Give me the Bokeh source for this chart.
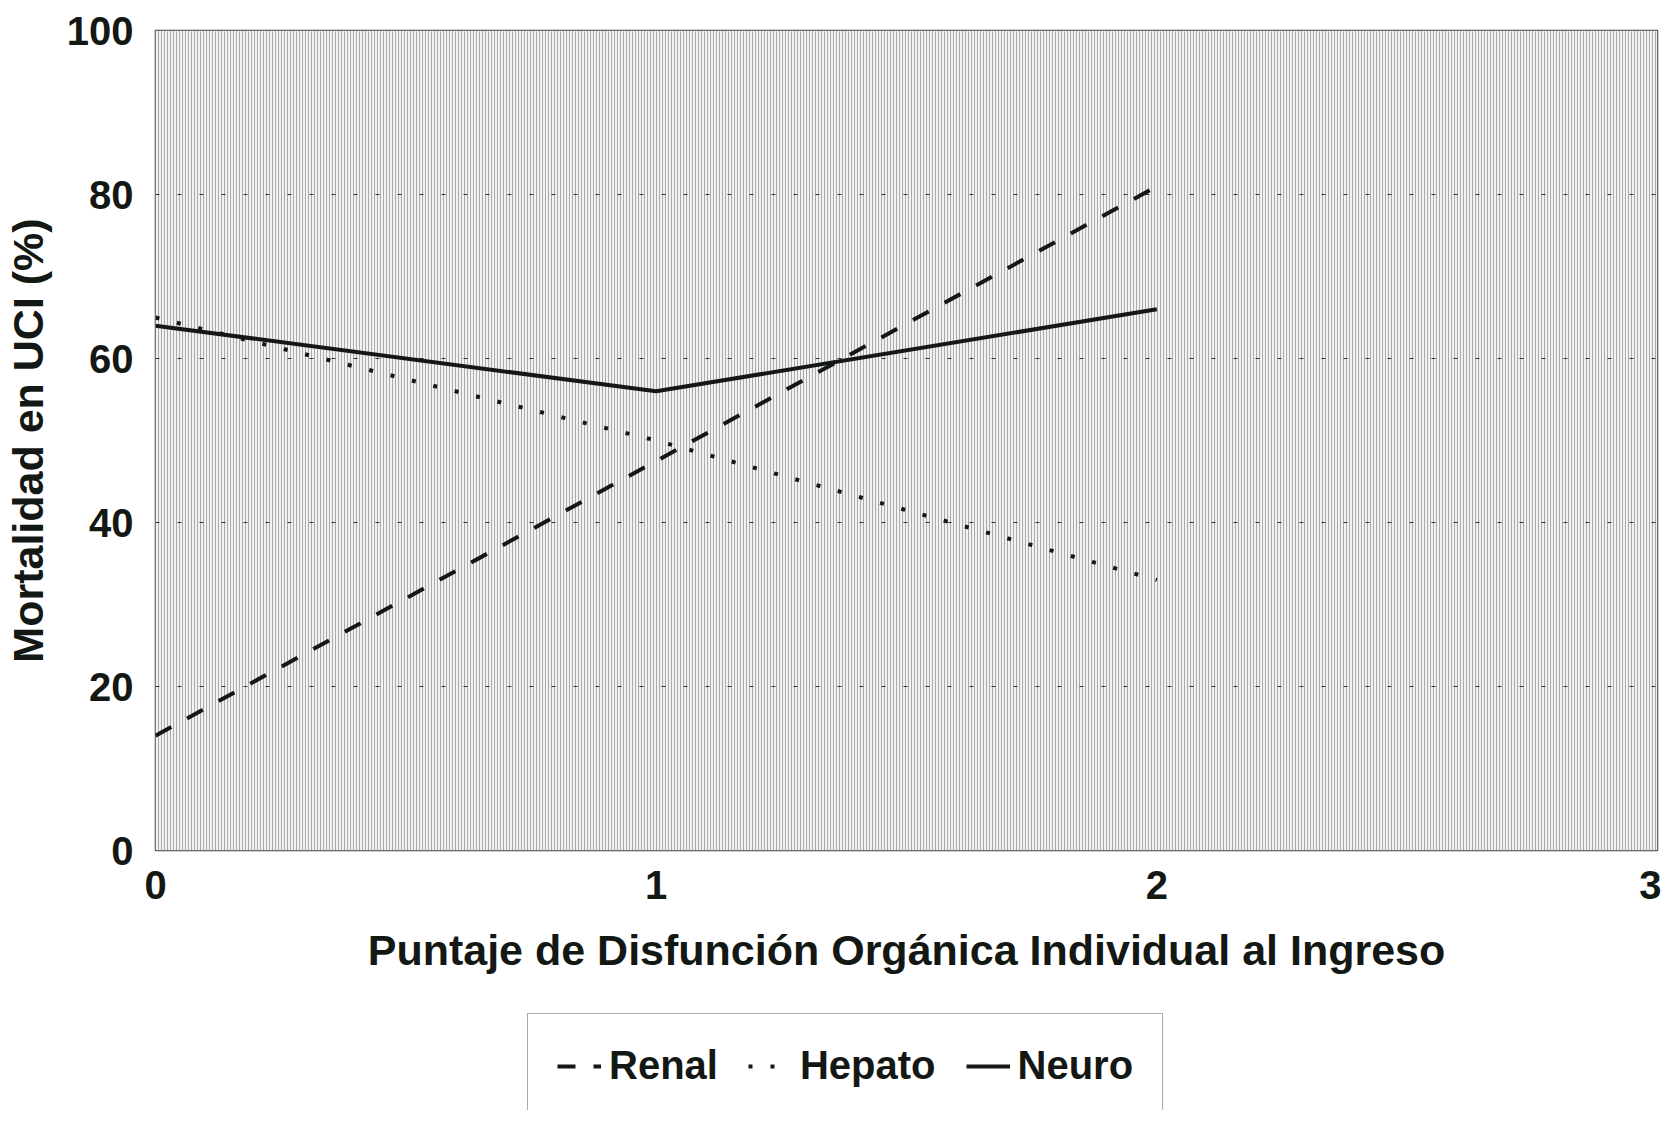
from bokeh.plotting import figure
from bokeh.layouts import column
from bokeh.models import Range1d, FixedTicker, BoxAnnotation, Legend, LegendItem
from bokeh.embed import file_html
from bokeh.resources import INLINE

# ---- data ----
scores = [0, 1, 2]
renal = [14, 47.5, 81]
hepato = [65, 50, 33]
neuro = [64, 56, 66]
x_ticks = [0, 1, 2, 3]
y_ticks = [0, 20, 40, 60, 80, 100]
series_names = ["Renal", "Hepato", "Neuro"]
x_label = "Puntaje de Disfunción Orgánica Individual al Ingreso"
y_label = "Mortalidad en UCI (%)"

FONT = "Liberation Sans"
INK = "#141814"
DASHES = ["18 18", "4 18", "solid"]
SERIES = [renal, hepato, neuro]

p = figure(width=1661, height=990, output_backend="svg", toolbar_location=None,
           x_range=Range1d(0, 3), y_range=Range1d(0, 100),
           min_border_left=147, min_border_right=4, min_border_top=30,
           min_border_bottom=140)

p.background_fill_color = "#e2e2e2"
p.border_fill_color = "white"
p.outline_line_color = "#3a3a3a"
p.outline_line_width = 1.5

# scanned-paper vertical hatch texture of plot area
bg = BoxAnnotation(fill_color="#f2f2f2", fill_alpha=1.0, line_color=None,
                   hatch_pattern="|", hatch_color="#ababab", hatch_scale=3,
                   hatch_weight=1, hatch_alpha=1.0, level="image")
p.add_layout(bg)

# grid
p.xgrid.grid_line_color = None
p.ygrid.ticker = FixedTicker(ticks=y_ticks)
p.ygrid.grid_line_color = "#333333"
p.ygrid.grid_line_width = 1
p.ygrid.grid_line_dash = "4 18"

for vals, dash in zip(SERIES, DASHES):
    p.line(scores, vals, line_color=INK, line_width=4, line_dash=dash)

# axes
for ax in (p.xaxis[0], p.yaxis[0]):
    ax.axis_line_color = None
    ax.major_tick_line_color = None
    ax.minor_tick_line_color = None
    ax.major_label_text_font = FONT
    ax.major_label_text_font_style = "bold"
    ax.major_label_text_font_size = "40px"
    ax.major_label_text_color = INK
    ax.axis_label_text_font = FONT
    ax.axis_label_text_font_style = "bold"
    ax.axis_label_text_font_size = "43px"
    ax.axis_label_text_color = INK

p.xaxis.ticker = FixedTicker(ticks=x_ticks)
p.yaxis.ticker = FixedTicker(ticks=y_ticks)
p.xaxis.axis_label = x_label
p.yaxis.axis_label = y_label
p.xaxis.major_label_standoff = 14
p.xaxis.axis_label_standoff = 24
p.yaxis.major_label_standoff = 16
p.yaxis.axis_label_standoff = 12

# ---- legend strip (separate figure holding only the key) ----
# the same series are attached here (out of view) so the key can draw their line styles
lg = figure(width=1661, height=120, output_backend="svg", toolbar_location=None,
            x_range=Range1d(0, 3), y_range=Range1d(-200, -100),
            x_axis_location=None, y_axis_location=None,
            min_border_left=0, min_border_right=0, min_border_top=0, min_border_bottom=0)
lg.outline_line_color = None
lg.xgrid.visible = False
lg.ygrid.visible = False
lg.background_fill_color = "white"
lg.border_fill_color = "white"

items = []
for name, vals, dash in zip(series_names, SERIES, DASHES):
    r = lg.line(scores, vals, line_color=INK, line_width=4, line_dash=dash)
    items.append(LegendItem(label=name, renderers=[r]))

legend = Legend(items=items, orientation="horizontal", location=(372, -8),
                label_text_font=FONT, label_text_font_style="bold",
                label_text_font_size="40px", label_text_color=INK,
                glyph_width=44, glyph_height=40, label_standoff=8,
                spacing=30, padding=29, margin=0,
                border_line_color="#555555", border_line_width=1.5,
                background_fill_color="white", background_fill_alpha=1.0)
lg.add_layout(legend, "center")

layout = column(p, lg, spacing=0)
open("out.html", "w").write(file_html(layout, INLINE))
